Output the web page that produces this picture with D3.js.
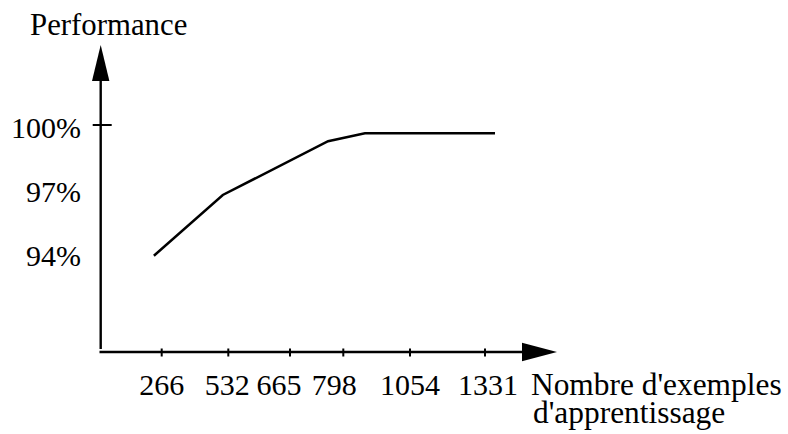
<!DOCTYPE html>
<html>
<head>
<meta charset="utf-8">
<script src="https://cdn.jsdelivr.net/npm/d3@7"></script>
<style>
  html, body { margin: 0; padding: 0; background: #fff; }
  svg text { font-family: "Liberation Serif", "Times New Roman", serif; fill: #000; }
</style>
</head>
<body>
<svg id="chart" width="788" height="434"></svg>
<script>
// ---- data ----
const xTickValues = [266, 532, 665, 798, 1054, 1331];
const xTickLabels = ["266", "532", "665", "798", "1054", "1331"];
const yTickValues = [94, 97, 100];
const yTickLabels = ["94%", "97%", "100%"];
const exemples = [232, 510, 760, 881, 1368];
const performance = [93.87, 96.72, 99.24, 99.61, 99.61];
const yTitle = "Performance";
const xTitleLines = ["Nombre d'exemples", "d'apprentissage"];

// ---- layout ----
const svg = d3.select("#chart");
const originX = 100.7, originY = 352;
const fontSize = 30;

// hand-drawn axis: tick positions are not evenly spaced, so a polylinear scale
const x = d3.scaleLinear()
  .domain([0].concat(xTickValues))
  .range([originX, 161.7, 228.3, 290, 343.3, 410, 485]);
const y = d3.scaleLinear().domain([94, 100]).range([253, 125]);

const stroke = "#000";

// Y axis line + arrow
svg.append("line")
  .attr("x1", originX).attr("x2", originX)
  .attr("y1", 349).attr("y2", 80)
  .attr("stroke", stroke).attr("stroke-width", 2.4);
svg.append("path")
  .attr("d", `M${originX},45 L${originX - 8.7},81 L${originX + 8.7},81 Z`)
  .attr("fill", stroke);

// X axis line + arrow
svg.append("line")
  .attr("x1", originX - 1.2).attr("x2", 523)
  .attr("y1", originY).attr("y2", originY)
  .attr("stroke", stroke).attr("stroke-width", 2.4);
svg.append("path")
  .attr("d", `M557,${originY} L522,${originY - 9.2} L522,${originY + 9.2} Z`)
  .attr("fill", stroke);

// X ticks
svg.append("g").selectAll("line")
  .data(xTickValues)
  .join("line")
  .attr("x1", d => x(d)).attr("x2", d => x(d))
  .attr("y1", originY - 3.5).attr("y2", originY + 4.5)
  .attr("stroke", stroke).attr("stroke-width", 2);

// X tick labels (two labels squeezed left in the original drawing)
const labelNudge = {532: -1, 665: -11, 798: -9, 1331: 3};
svg.append("g").selectAll("text")
  .data(xTickValues)
  .join("text")
  .attr("x", d => x(d) + (labelNudge[d] || 0))
  .attr("y", 395)
  .attr("text-anchor", "middle")
  .attr("font-size", fontSize)
  .text((d, i) => xTickLabels[i]);

// Y tick (only the 100% mark is drawn)
svg.append("line")
  .attr("x1", originX - 8).attr("x2", originX + 11)
  .attr("y1", y(100)).attr("y2", y(100))
  .attr("stroke", stroke).attr("stroke-width", 2);

// Y tick labels
svg.append("g").selectAll("text")
  .data(yTickValues)
  .join("text")
  .attr("x", 81)
  .attr("y", d => y(d) + 12.7)
  .attr("text-anchor", "end")
  .attr("font-size", fontSize)
  .text((d, i) => yTickLabels[i]);

// Titles
svg.append("text")
  .attr("x", 30).attr("y", 35)
  .attr("font-size", 30.8)
  .text(yTitle);

const xTitle = svg.append("text")
  .attr("font-size", 31.4);
xTitle.selectAll("tspan")
  .data(xTitleLines)
  .join("tspan")
  .attr("x", (d, i) => i === 0 ? 531 : 533)
  .attr("y", (d, i) => 395 + i * 28)
  .text(d => d);

// Data line
const line = d3.line()
  .x((d, i) => x(exemples[i]))
  .y((d, i) => y(performance[i]));
svg.append("path")
  .datum(performance)
  .attr("d", line)
  .attr("fill", "none")
  .attr("stroke", stroke)
  .attr("stroke-width", 2.5)
  .attr("stroke-linejoin", "miter");
</script>
</body>
</html>
